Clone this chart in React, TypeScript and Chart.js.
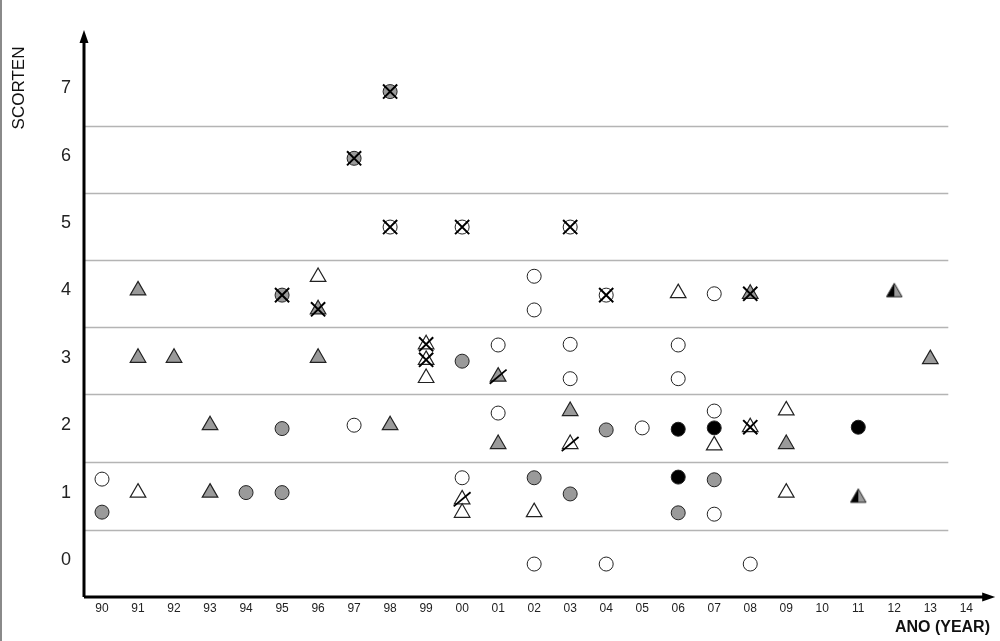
import React, { useEffect, useRef } from "react";
import { Chart, registerables } from "chart.js";

Chart.register(...registerables);

const years = ["90","91","92","93","94","95","96","97","98","99","00","01","02","03","04","05","06","07","08","09","10","11","12","13","14"];
const yTickValues = [0, 1, 2, 3, 4, 5, 6, 7];
const gridValues = [0.45, 1.45, 2.46, 3.46, 4.45, 5.45, 6.44];

type P = [string, number];
const whiteCircles: P[] = [["90",1.2],["97",2.0],["00",1.22],["01",3.19],["01",2.18],["02",4.21],["02",3.71],["02",-0.06],["03",3.2],["03",2.69],["04",-0.06],["05",1.96],["06",3.19],["06",2.69],["07",3.95],["07",2.21],["07",0.68],["08",-0.06]];
const grayCircles: P[] = [["90",0.71],["94",1.0],["95",1.95],["95",1.0],["00",2.95],["02",1.22],["03",0.98],["04",1.93],["06",0.7],["07",1.19]];
const blackCircles: P[] = [["06",1.94],["06",1.23],["07",1.96],["11",1.97]];
const whiteTriangles: P[] = [["91",1.0],["96",4.2],["99",2.7],["00",0.7],["02",0.71],["06",3.96],["07",1.7],["09",2.22],["09",1.0]];
const grayTriangles: P[] = [["91",4.0],["91",3.0],["92",3.0],["93",2.0],["93",1.0],["96",3.0],["98",2.0],["01",1.72],["03",2.21],["09",1.72],["13",2.98]];
const halfTriangles: P[] = [["11",0.93],["12",3.98]];
const crossedGrayCircles: P[] = [["95",3.93],["97",5.96],["98",6.95]];
const crossedWhiteCircles: P[] = [["98",4.94],["00",4.94],["03",4.94],["04",3.93]];
const crossedWhiteTriangles: P[] = [["99",3.2],["99",2.97],["08",1.97]];
const crossedGrayTriangles: P[] = [["96",3.72],["08",3.95]];
const slashedWhiteTriangles: P[] = [["00",0.9],["03",1.72]];
const slashedGrayTriangles: P[] = [["01",2.72]];

const toXY = (arr: P[]) => arr.map(([yr, v]) => ({ x: years.indexOf(yr), y: v }));

const WHITE = "#ffffff";
const GRAY = "#9a9a9a";
const BLACK = "#000000";
const EDGE = "#222222";

function makeHalfTriangle(): HTMLCanvasElement {
  const c = document.createElement("canvas");
  c.width = 20; c.height = 20;
  const ctx = c.getContext("2d")!;
  const cx = 10, cy = 10.5, r = 9;
  const top = [cx, cy - r];
  const bl = [cx - r * Math.sin(Math.PI / 3), cy + r / 2];
  const br = [cx + r * Math.sin(Math.PI / 3), cy + r / 2];
  ctx.fillStyle = BLACK;
  ctx.beginPath(); ctx.moveTo(top[0], top[1]); ctx.lineTo(bl[0], bl[1]); ctx.lineTo(cx, bl[1]); ctx.closePath(); ctx.fill();
  ctx.fillStyle = GRAY;
  ctx.beginPath(); ctx.moveTo(top[0], top[1]); ctx.lineTo(cx, br[1]); ctx.lineTo(br[0], br[1]); ctx.closePath(); ctx.fill();
  ctx.strokeStyle = EDGE; ctx.lineWidth = 1;
  ctx.beginPath(); ctx.moveTo(top[0], top[1]); ctx.lineTo(bl[0], bl[1]); ctx.lineTo(br[0], br[1]); ctx.closePath(); ctx.stroke();
  return c;
}

function circleDs(data: P[], fill: string) {
  return { data: toXY(data), pointStyle: "circle", pointRadius: 7, backgroundColor: fill, borderColor: EDGE, borderWidth: 1, showLine: false };
}
function triDs(data: P[], fill: string) {
  return { data: toXY(data), pointStyle: "triangle", pointRadius: 9, backgroundColor: fill, borderColor: EDGE, borderWidth: 1.2, showLine: false };
}
function crossDs(data: P[]) {
  return { data: toXY(data), pointStyle: "crossRot", pointRadius: 10, backgroundColor: BLACK, borderColor: BLACK, borderWidth: 2, showLine: false };
}
function slashDs(data: P[]) {
  return { data: toXY(data), pointStyle: "line", pointRotation: -40, pointRadius: 11, backgroundColor: BLACK, borderColor: BLACK, borderWidth: 1.8, showLine: false };
}

const decorPlugin = {
  id: "decor",
  beforeDatasetsDraw(chart: any) {
    const { ctx, chartArea, scales } = chart;
    const xs = scales.x, ys = scales.y;
    ctx.save();
    ctx.strokeStyle = "#8a8a8a"; ctx.lineWidth = 2;
    ctx.beginPath(); ctx.moveTo(1, 0); ctx.lineTo(1, 641); ctx.stroke();
    ctx.strokeStyle = "#b4b4b4"; ctx.lineWidth = 1.5;
    const gx2 = xs.getPixelForValue(23.5);
    gridValues.forEach((v) => {
      const y = Math.round(ys.getPixelForValue(v)) + 0.5;
      ctx.beginPath(); ctx.moveTo(chartArea.left, y); ctx.lineTo(gx2, y); ctx.stroke();
    });
    ctx.restore();
  },
  afterDatasetsDraw(chart: any) {
    const { ctx, chartArea } = chart;
    const l = chartArea.left, b = chartArea.bottom, t = chartArea.top;
    const r = chartArea.right + 6;
    ctx.save();
    ctx.strokeStyle = BLACK; ctx.fillStyle = BLACK; ctx.lineWidth = 3;
    ctx.beginPath(); ctx.moveTo(l, b); ctx.lineTo(l, t + 8); ctx.stroke();
    ctx.beginPath(); ctx.moveTo(l, b); ctx.lineTo(r - 8, b); ctx.stroke();
    ctx.beginPath(); ctx.moveTo(l, t - 2); ctx.lineTo(l - 4.5, t + 11); ctx.lineTo(l + 4.5, t + 11); ctx.closePath(); ctx.fill();
    ctx.beginPath(); ctx.moveTo(r + 2, b); ctx.lineTo(r - 11, b - 4.5); ctx.lineTo(r - 11, b + 4.5); ctx.closePath(); ctx.fill();
    ctx.fillStyle = "#111";
    ctx.font = "17px 'Liberation Sans', Arial, sans-serif";
    ctx.textAlign = "center"; ctx.textBaseline = "middle";
    ctx.save(); ctx.translate(19, 88); ctx.rotate(-Math.PI / 2); ctx.fillText("SCORTEN", 0, 0); ctx.restore();
    ctx.font = "bold 16px 'Liberation Sans', Arial, sans-serif";
    ctx.textAlign = "right";
    ctx.fillText("ANO (YEAR)", 990, 628);
    ctx.restore();
  },
};

export default function App() {
  const ref = useRef<HTMLCanvasElement>(null);
  useEffect(() => {
    const half = makeHalfTriangle();
    const chart = new Chart(ref.current!, {
      type: "scatter",
      data: {
        datasets: [
          crossDs(crossedGrayCircles),
          crossDs(crossedWhiteCircles),
          crossDs(crossedWhiteTriangles),
          crossDs(crossedGrayTriangles),
          slashDs(slashedWhiteTriangles),
          slashDs(slashedGrayTriangles),
          circleDs(whiteCircles, WHITE),
          circleDs(grayCircles, GRAY),
          circleDs(blackCircles, BLACK),
          circleDs(crossedGrayCircles, GRAY),
          circleDs(crossedWhiteCircles, WHITE),
          triDs(whiteTriangles, WHITE),
          triDs(grayTriangles, GRAY),
          triDs(crossedWhiteTriangles, WHITE),
          triDs(crossedGrayTriangles, GRAY),
          triDs(slashedWhiteTriangles, WHITE),
          triDs(slashedGrayTriangles, GRAY),
          { data: toXY(halfTriangles), pointStyle: half, pointRadius: 9, showLine: false },
        ] as any,
      },
      options: {
        animation: false,
        responsive: false,
        events: [],
        layout: { padding: { top: 32, right: 5, left: 0, bottom: 0 } },
        plugins: { legend: { display: false }, tooltip: { enabled: false } },
        scales: {
          x: {
            type: "linear",
            min: -0.5,
            max: 24.58,
            grid: { display: false, drawTicks: false, tickLength: 0 },
            border: { display: false },
            afterBuildTicks: (s: any) => { s.ticks = years.map((_, i) => ({ value: i })); },
            afterFit: (s: any) => { s.height = 44; s.paddingLeft = 0; s.paddingRight = 0; },
            ticks: {
              autoSkip: false,
              maxRotation: 0,
              padding: 4,
              color: "#222",
              font: { size: 12, family: "'Liberation Sans', Arial, sans-serif" },
              callback: (v: any) => years[v] ?? "",
            },
          },
          y: {
            type: "linear",
            min: -0.549,
            max: 7.834,
            grid: { display: false, drawTicks: false, tickLength: 0 },
            border: { display: false },
            afterBuildTicks: (s: any) => { s.ticks = yTickValues.map((v) => ({ value: v })); },
            afterFit: (s: any) => { s.width = 84; s.paddingTop = 0; s.paddingBottom = 0; },
            ticks: {
              padding: 13,
              color: "#222",
              font: { size: 18, family: "'Liberation Sans', Arial, sans-serif" },
              callback: (v: any) => String(v),
            },
          },
        },
      } as any,
      plugins: [decorPlugin],
    });
    return () => chart.destroy();
  }, []);
  return (
    <div style={{ position: "absolute", left: 0, top: 0, width: 1000, height: 641, background: "#fff" }}>
      <canvas ref={ref} width={1000} height={641} />
    </div>
  );
}
